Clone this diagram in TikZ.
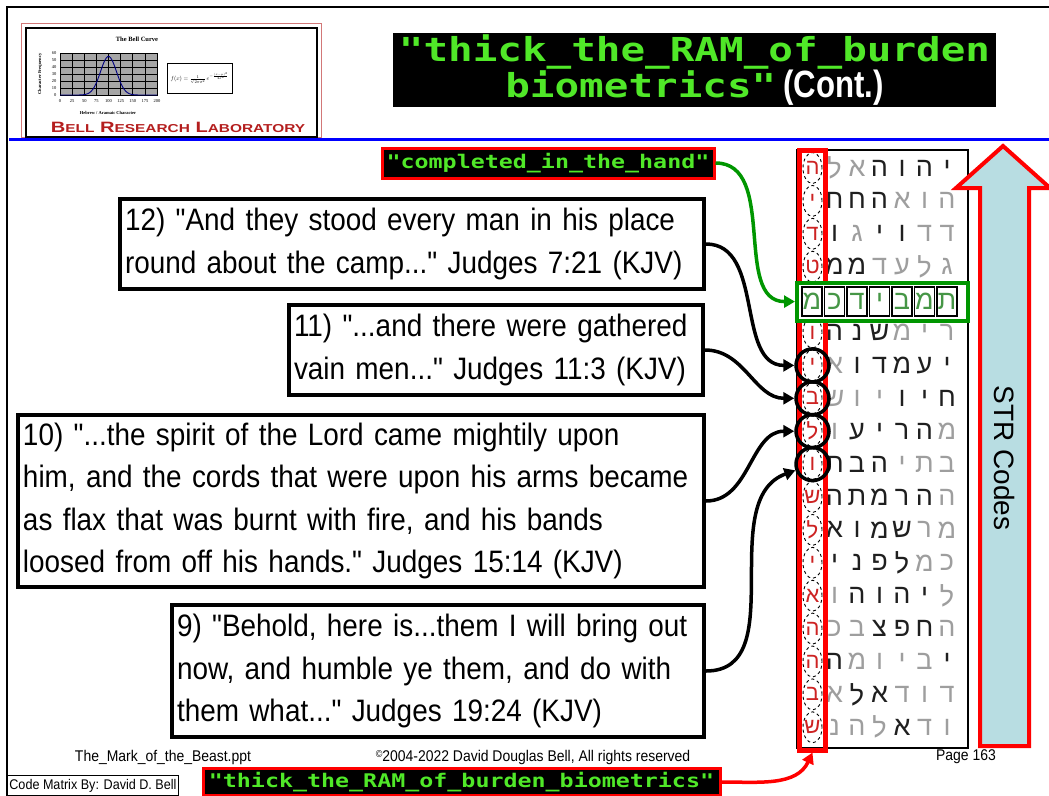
\documentclass[tikz,border=0pt]{standalone}
\usepackage{fontspec}
\setmainfont{Liberation Sans}
\newfontfamily\quotefont[FakeStretch=0.9]{Liberation Sans}
\newfontfamily\contfont[FakeStretch=0.82]{Liberation Sans}
\newfontfamily\codefont[FakeStretch=1.24]{DejaVu Sans Mono}
\newfontfamily\hebfont[Script=Hebrew]{Liberation Sans}
\newfontfamily\labfont[FakeStretch=1.34]{Liberation Sans}
\newfontfamily\plotfont{Liberation Serif}
\usetikzlibrary{arrows.meta,positioning,shapes.geometric}

\definecolor{codegreen}{RGB}{80,232,40}
\definecolor{arrowgreen}{RGB}{0,150,0}
\definecolor{gletter}{RGB}{70,150,70}
\definecolor{strblue}{RGB}{184,221,226}
\definecolor{logored}{RGB}{180,30,30}
\definecolor{hebred}{RGB}{205,35,35}
\colorlet{hg}{black!38}
\colorlet{hk}{black!88}

\begin{document}
\begin{tikzpicture}[x=1pt, y=1pt,
   >={Triangle[length=11pt,width=12pt]},
   quote/.style={draw, line width=4pt, align=left, anchor=north east, inner xsep=5pt,
                 font=\quotefont\fontsize{31}{42.5}\selectfont},
   codebox/.style={fill=black, draw=red, line width=3pt, text=codegreen, inner sep=1pt,
                   font=\codefont\bfseries\fontsize{18.8}{20}\selectfont},
   link/.style={->, line width=3.5pt},
   hebch/.style={inner sep=0pt, font=\hebfont\fontsize{27}{27}\selectfont},
   redch/.style={inner sep=0pt, text=hebred, font=\hebfont\fontsize{22}{22}\selectfont},
   oval/.style={draw, dashed, ellipse, line width=0.9pt, minimum width=19pt,
                minimum height=31pt, inner sep=0pt},
   ring/.style={draw, circle, line width=3.5pt, minimum size=33pt, inner sep=0pt},
   gbox/.style={hebch, draw, line width=1.8pt, minimum width=20pt, minimum height=29pt,
                text=gletter},
   foot/.style={font=\quotefont\fontsize{15.5}{16}\selectfont, inner sep=1pt},
   plotlbl/.style={font=\plotfont\fontsize{4.5}{5}\selectfont, inner sep=0.5pt}]

  \useasboundingbox (0,0) rectangle (1049,-795);

  % slide frame and rule
  \draw[line width=2.5pt] (7,-796) -- (7,-7) -- (1050,-7);
  \draw[blue, line width=3pt] (9,-139) -- (1049,-139);

  % logo
  \draw[logored!60, line width=1pt] (21,-23) rectangle (321,-137);
  \draw[line width=1.5pt] (26,-28) rectangle (317,-137);
  \node[font=\plotfont\bfseries\fontsize{6.5}{7}\selectfont] (belltitle) at (137,-39) {The Bell Curve};
  \begin{scope}[shift={(60,-95)}]
    \fill[black!35] (0,0) rectangle (97,42);
    \draw[line width=0.6pt] (0,0) grid[xstep=12.125, ystep=7] (97,42) rectangle (0,0);
    \draw[blue!50!black, line width=0.9pt, domain=0:97, samples=60]
      plot (\x,{38.5*exp(-((\x-48.5)^2)/128)});
    \foreach \v [count=\i from 0] in {0,10,...,60}
      \node[plotlbl, anchor=east] (yl\i) at (-3,7*\i) {\v};
    \foreach \v [count=\i from 0] in {0,25,...,200}
      \node[plotlbl, anchor=north] (xl\i) at (12.125*\i,-4) {\v};
  \end{scope}
  \node[plotlbl, rotate=90, font=\plotfont\bfseries\fontsize{4.5}{5}\selectfont] (ytitle) at (40,-74) {Character Frequency};
  \node[plotlbl, font=\plotfont\bfseries\fontsize{4.5}{5}\selectfont] (xtitle) at (108,-113) {Hebrew / Aramaic Character};
  \node[draw, fill=white, line width=0.6pt, minimum width=65pt, minimum height=30pt, inner sep=1pt]
    (formula) at (199.5,-78) {\resizebox{58pt}{!}{$f(x)=\frac{1}{\sqrt{2\pi\sigma^2}}\,e^{-\frac{(x-\mu)^2}{2\sigma^2}}$}};
  \node[text=logored, inner sep=0pt] (lab) at (178,-127)
    {\labfont\bfseries\fontsize{15}{15}\selectfont B{\fontsize{11.5}{12}\selectfont ELL} R{\fontsize{11.5}{12}\selectfont ESEARCH} L{\fontsize{11.5}{12}\selectfont ABORATORY}};

  % title
  \node[fill=black, minimum width=603pt, minimum height=74pt, inner sep=0pt, align=center,
        text=codegreen, font=\codefont\bfseries\fontsize{33}{36}\selectfont] (title) at (694.5,-70)
    {"thick\_the\_RAM\_of\_burden\\biometrics"\hspace{7pt}{\contfont\fontsize{38}{36}\selectfont\color{white}(Cont.)}};

  % code matrix
  \node[draw, fill=white, line width=1.5pt, minimum width=171pt, minimum height=598pt] (grid) at (882.5,-449) {};
  \foreach \r/\z/\cs in {
      1/ה/{ל/hg,א/hg,ה/hk,ו/hk,ה/hk,י/hk},
      2/י/{ח/hk,ח/hk,ה/hk,א/hg,ו/hg,ה/hg},
      3/ד/{ו/hk,ג/hg,י/hk,ו/hk,ד/hg,ד/hg},
      4/ט/{מ/hk,מ/hk,ד/hg,ע/hg,ל/hg,ג/hg},
      6/ו/{ה/hk,נ/hk,ש/hk,מ/hg,י/hg,ר/hg},
      7/י/{א/hg,ו/hk,ד/hk,מ/hk,ע/hk,י/hk},
      8/ב/{ש/hg,ו/hg,י/hg,ו/hk,י/hk,ח/hk},
      9/ל/{ו/hg,ע/hk,י/hk,ר/hk,ה/hk,מ/hg},
      10/ו/{ת/hk,ב/hk,ה/hk,י/hg,ת/hg,ב/hg},
      11/ש/{ה/hk,ת/hk,מ/hk,ר/hk,ה/hk,ה/hg},
      12/ל/{א/hk,ו/hk,מ/hk,ש/hk,ר/hg,מ/hg},
      13/י/{י/hk,נ/hk,פ/hk,ל/hk,מ/hg,כ/hg},
      14/א/{ו/hg,ה/hk,ו/hk,ה/hk,י/hk,ל/hg},
      15/ה/{כ/hg,ב/hg,צ/hk,פ/hk,ח/hk,ה/hg},
      16/ה/{ה/hk,מ/hg,ו/hg,י/hg,ב/hg,י/hk},
      17/ב/{א/hg,ל/hk,א/hk,ד/hg,ו/hg,ד/hg},
      18/ש/{נ/hg,ה/hg,ל/hg,א/hk,ד/hg,ו/hg}}{
    \node[redch] (z\r) at (812.5,{-168-32.9*(\r-1)}) {\z};
    \node[oval] (e\r) at (z\r) {};
    \foreach \ch/\sh [count=\c] in \cs
      \node[hebch, text=\sh] (h\r-\c) at ({812+22.5*\c},{-168-32.9*(\r-1)}) {\ch};
  }
  \node[draw=red, line width=5pt, minimum width=26pt, minimum height=600pt] (redcol) at (812.5,-450) {};
  % completed in the hand row
  \node[draw=arrowgreen, fill=white, line width=4pt, minimum width=171pt, minimum height=38pt] (grow) at (882.5,-301.6) {};
  \foreach \ch [count=\c from 0] in {מ,כ,ד,י,ב,מ,ת}
    \node[gbox] (g\c) at ({812+22.5*\c},-301.6) {\ch};
  \foreach \r in {7,...,10}
    \node[ring] (c\r) at (z\r) {};

  % STR arrow
  \draw[red, line width=4pt, fill=strblue, line join=miter]
    (980,-746) -- (980,-188) -- (956,-188) -- (1003,-146) -- (1050,-188)
    -- (1029,-188) -- (1029,-746) -- cycle;
  \node[rotate=-90, font=\fontsize{28}{28}\selectfont] (str) at (1004.5,-458) {STR Codes};

  % verses
  \node[quote, text width=574pt, minimum height=90pt] (q12) at (706,-197)
    {12) "And they stood every man in his place\\round about the camp..." Judges 7:21 (KJV)};
  \node[quote, text width=404pt, minimum height=90pt] (q11) at (705,-303)
    {11) "...and there were gathered\\vain men..." Judges 11:3 (KJV)};
  \node[quote, text width=676pt, minimum height=172pt] (q10) at (706,-413)
    {10) "...the spirit of the Lord came mightily upon\\him, and the cords that were upon his arms became\\as flax that was burnt with fire, and his bands\\loosed from off his hands." Judges 15:14 (KJV)};
  \node[quote, text width=522pt, minimum height=132pt] (q9) at (706,-603)
    {9) "Behold, here is...them I will bring out\\now, and humble ye them, and do with\\them what..." Judges 19:24 (KJV)};

  % code labels
  \node[codebox, minimum width=332pt, minimum height=30pt] (hand) at (548,-163) {"completed\_in\_the\_hand"};
  \node[codebox, minimum width=517pt, minimum height=27pt] (biolab) at (461.5,-782) {"thick\_the\_RAM\_of\_burden\_biometrics"};

  % connectors
  \draw[link] (q12) to[out=0, in=180] (c7);
  \draw[link] (q11) to[out=0, in=180] (c8);
  \draw[link] (q10) to[out=0, in=180] (c9);
  \draw[link] (q9) to[out=0, in=200] (c10);
  \draw[link, arrowgreen] (hand) to[out=0, in=180] (grow);
  \draw[link, red] (biolab) to[out=0, in=-115] (redcol.south);

  % footer
  \node[foot] (fname) at (163,-757) {The\_Mark\_of\_the\_Beast.ppt};
  \node[foot] (copy) at (533,-757) {\raisebox{4pt}{\fontsize{10}{10}\selectfont ©}2004-2022 David Douglas Bell, All rights reserved};
  \node[foot] (page) at (966,-757) {Page 163};
  \node[draw, line width=0.8pt, anchor=south west, inner sep=2pt, minimum height=20pt,
        font=\quotefont\fontsize{14}{15}\selectfont] (credit) at (7,-796) {Code Matrix By: David D. Bell};
\end{tikzpicture}
\end{document}
